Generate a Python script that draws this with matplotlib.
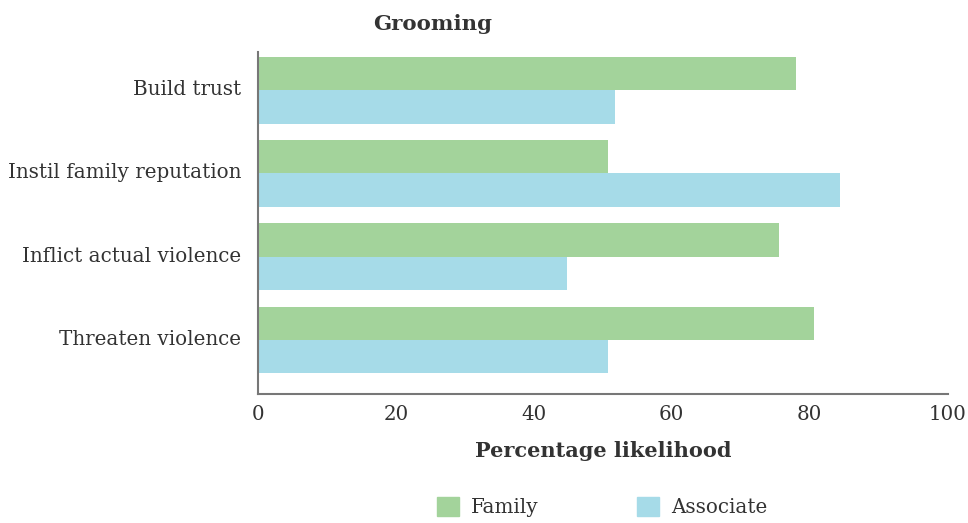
import numpy as np
import matplotlib
matplotlib.use("Agg")
import matplotlib.pyplot as plt
from matplotlib.patches import Patch

# data
categories = ["Build trust", "Instil family reputation", "Inflict actual violence", "Threaten violence"]
family = [78.0, 50.7, 75.5, 80.6]
associate = [51.7, 84.4, 44.8, 50.7]
xticks = [0, 20, 40, 60, 80, 100]

green = "#a3d39b"
blue = "#a6dbe8"
text_col = "#333333"

plt.rcParams["font.family"] = ["DejaVu Serif"]

fig = plt.figure(figsize=(9.68, 5.23), dpi=100)
ax = fig.add_axes([0.2665, 0.2467, 0.7125, 0.654])

y = np.arange(len(categories))
h = 0.4
ax.barh(y - h / 2, family, height=h, color=green, label="Family")
ax.barh(y + h / 2, associate, height=h, color=blue, label="Associate")

ax.set_xlim(0, 100)
ax.set_ylim(3.65, -0.46)
ax.set_xticks(xticks)
ax.set_yticks(y - 0.03)
ax.set_yticklabels(categories)
ax.tick_params(length=0, labelsize=14.3, colors=text_col, pad=12)
ax.tick_params(axis="x", pad=8)

for s in ["top", "right"]:
    ax.spines[s].set_visible(False)
for s in ["left", "bottom"]:
    ax.spines[s].set_color("#777777")
    ax.spines[s].set_linewidth(1.5)

ax.set_xlabel("Percentage likelihood", fontsize=15, fontweight="bold", color=text_col, labelpad=12)
fig.text(0.447, 0.955, "Grooming", ha="center", va="center", fontsize=15.3,
         fontweight="bold", color=text_col)

handles = [Patch(color=green, label="Family"), Patch(color=blue, label="Associate")]
fig.legend(handles=handles, loc="center", bbox_to_anchor=(0.622, 0.031), ncol=2,
           frameon=False, fontsize=14.3, handlelength=1.1, handleheight=1.1,
           columnspacing=5.0, handletextpad=0.6, labelcolor=text_col)

fig.savefig("out.png", dpi=100)
